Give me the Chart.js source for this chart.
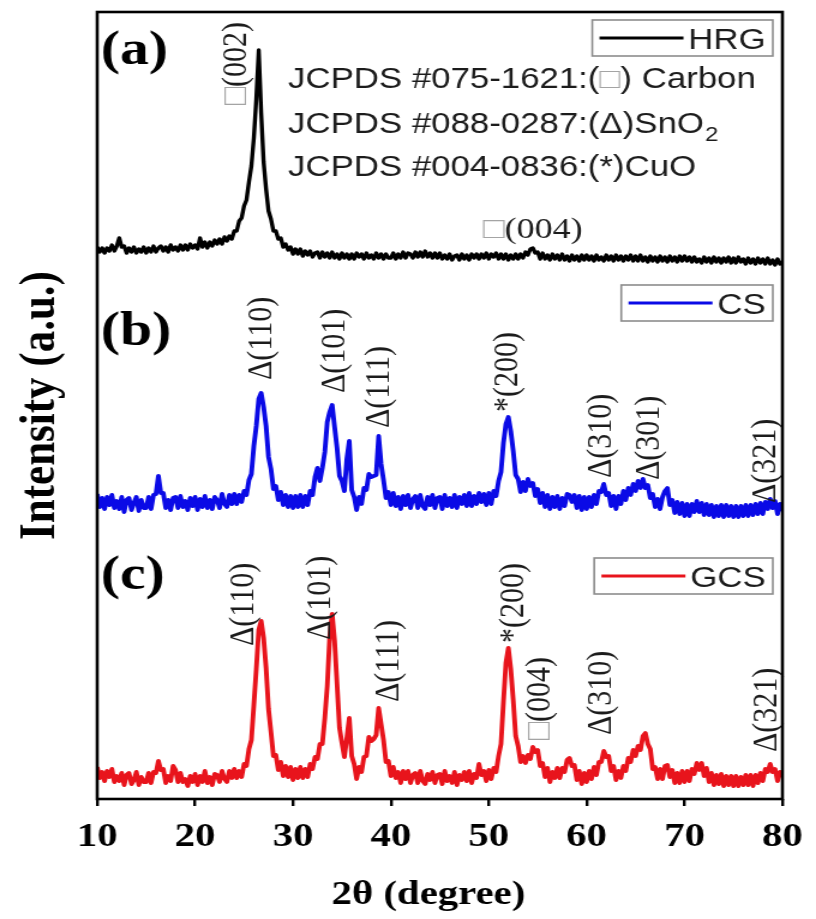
<!DOCTYPE html>
<html>
<head>
<meta charset="utf-8">
<title>XRD patterns of HRG, CS and GCS</title>
<script src="https://cdn.jsdelivr.net/npm/chart.js@4.4.1/dist/chart.umd.min.js"></script>
<style>
  html, body { margin: 0; padding: 0; background: #ffffff; }
  canvas { display: block; }
</style>
</head>
<body>
<canvas id="xrd" width="680" height="919" style="width:816px;height:919px"></canvas>
<script>
// 2θ sampling grid (degree)
const TWO_THETA = [
  10,10.25,10.5,10.75,11,11.25,11.5,11.75,12,12.25,12.5,12.75,13,13.25,13.5,13.75,14,14.25,14.5,14.75,
  15,15.25,15.5,15.75,16,16.25,16.5,16.75,17,17.25,17.5,17.75,18,18.25,18.5,18.75,19,19.25,19.5,19.75,
  20,20.25,20.5,20.75,21,21.25,21.5,21.75,22,22.25,22.5,22.75,23,23.25,23.5,23.75,24,24.25,24.5,24.75,
  25,25.25,25.5,25.75,26,26.25,26.5,26.75,27,27.25,27.5,27.75,28,28.25,28.5,28.75,29,29.25,29.5,29.75,
  30,30.25,30.5,30.75,31,31.25,31.5,31.75,32,32.25,32.5,32.75,33,33.25,33.5,33.75,34,34.25,34.5,34.75,
  35,35.25,35.5,35.75,36,36.25,36.5,36.75,37,37.25,37.5,37.75,38,38.25,38.5,38.75,39,39.25,39.5,39.75,
  40,40.25,40.5,40.75,41,41.25,41.5,41.75,42,42.25,42.5,42.75,43,43.25,43.5,43.75,44,44.25,44.5,44.75,
  45,45.25,45.5,45.75,46,46.25,46.5,46.75,47,47.25,47.5,47.75,48,48.25,48.5,48.75,49,49.25,49.5,49.75,
  50,50.25,50.5,50.75,51,51.25,51.5,51.75,52,52.25,52.5,52.75,53,53.25,53.5,53.75,54,54.25,54.5,54.75,
  55,55.25,55.5,55.75,56,56.25,56.5,56.75,57,57.25,57.5,57.75,58,58.25,58.5,58.75,59,59.25,59.5,59.75,
  60,60.25,60.5,60.75,61,61.25,61.5,61.75,62,62.25,62.5,62.75,63,63.25,63.5,63.75,64,64.25,64.5,64.75,
  65,65.25,65.5,65.75,66,66.25,66.5,66.75,67,67.25,67.5,67.75,68,68.25,68.5,68.75,69,69.25,69.5,69.75,
  70,70.25,70.5,70.75,71,71.25,71.5,71.75,72,72.25,72.5,72.75,73,73.25,73.5,73.75,74,74.25,74.5,74.75,
  75,75.25,75.5,75.75,76,76.25,76.5,76.75,77,77.25,77.5,77.75,78,78.25,78.5,78.75,79,79.25,79.5,79.75,
  80
];

// Intensities (a.u.) of each sample on the grid above
const HRG = [
  32,27,31,26,31,28,34,28,33,41,32,33,26,31,27,32,26,30,27,32,
  26,31,27,33,27,31,33,28,32,27,34,29,32,28,34,29,34,29,35,31,
  34,30,41,32,37,31,37,33,39,35,40,35,42,38,43,40,48,48,58,61,
  73,79,97,113,141,180,229,166,117,90,68,60,48,48,40,41,32,35,29,32,
  25,30,25,30,23,28,24,28,22,26,27,21,27,22,26,21,27,21,25,20,
  26,21,25,20,25,20,26,22,25,20,26,21,24,20,26,21,25,20,25,21,
  21,26,20,25,21,27,21,26,25,21,27,22,27,22,28,22,26,21,26,21,
  26,20,24,20,25,19,23,24,19,25,20,24,19,25,21,25,20,25,21,26,
  20,25,22,26,20,25,20,25,19,24,20,25,20,25,21,27,24,30,31,26,
  27,20,26,20,24,19,25,20,24,19,25,19,23,18,24,19,23,18,24,19,
  24,19,23,18,24,19,22,18,24,19,23,18,24,19,23,18,23,19,24,18,
  23,18,24,18,22,17,23,18,22,17,23,18,22,17,23,18,22,17,23,18,
  23,18,22,17,22,17,20,16,22,17,21,16,22,17,21,16,21,17,22,16,
  21,16,22,17,20,15,21,16,20,15,21,16,20,15,21,15,19,14,20,15,
  17
];
const CS = [
  35,22,31,20,32,24,34,21,28,20,32,17,29,31,19,26,32,18,29,21,
  21,32,20,34,35,53,36,36,21,29,19,31,32,21,33,22,28,19,31,23,
  32,19,30,22,33,21,29,20,32,29,21,35,25,22,34,25,35,25,34,27,
  38,34,49,55,83,103,130,136,122,103,72,60,40,43,29,37,24,34,22,33,
  21,33,22,34,22,33,24,38,34,52,61,48,61,77,107,117,124,102,81,53,
  48,38,70,88,39,32,19,32,25,41,39,55,52,53,54,93,65,49,31,37,
  24,36,23,32,20,33,24,34,21,30,33,21,34,23,20,32,24,34,21,31,
  32,20,34,23,31,22,34,21,32,25,34,23,36,23,33,25,36,27,35,24,
  36,25,38,33,48,57,86,105,112,98,78,54,50,37,47,38,50,43,46,33,
  40,26,36,22,34,20,32,22,33,20,31,23,35,34,27,34,21,33,19,32,
  20,32,22,34,25,38,37,45,34,36,23,33,20,33,25,38,29,41,34,45,
  38,48,41,50,41,44,31,35,22,30,20,32,38,41,24,29,16,27,15,26,
  13,25,13,25,17,28,17,26,14,25,14,24,12,23,13,24,12,24,13,23,
  12,23,12,23,13,24,13,24,14,25,15,26,15,27,20,30,21,28,15,25,
  18
];
const GCS = [
  32,21,27,18,28,22,30,17,23,18,26,14,24,26,15,19,27,14,22,17,
  17,26,16,27,26,38,29,30,16,23,18,33,29,17,26,17,20,13,23,17,
  25,14,23,17,28,16,22,14,25,24,17,28,20,17,28,21,30,21,28,22,
  35,33,50,59,94,130,169,178,161,131,90,67,43,44,29,37,23,33,22,32,
  19,30,21,32,21,30,22,35,30,42,40,55,55,81,113,162,185,158,115,71,
  56,42,61,81,43,35,20,32,27,42,43,62,58,60,64,91,75,59,37,38,
  23,32,21,27,16,28,20,28,16,24,26,16,28,18,15,25,19,27,16,24,
  25,15,28,18,23,16,27,14,24,19,27,18,28,16,25,21,35,24,28,18,
  29,20,31,27,43,55,97,136,151,130,99,63,53,37,43,36,44,40,52,47,
  49,33,36,22,31,17,27,21,31,21,31,27,39,41,33,34,19,28,15,26,
  17,28,20,32,24,37,37,48,42,43,28,33,19,28,21,33,28,41,37,49,
  43,53,49,63,66,55,50,30,32,20,30,20,33,34,22,29,16,26,16,28,
  17,28,18,30,25,36,29,36,23,31,17,26,14,24,15,25,13,23,14,23,
  13,23,13,22,14,24,14,24,13,24,16,26,18,30,27,35,27,30,18,27,
  22
];

// Vertical stacking offsets (a.u.) of the three patterns
const SERIES_NAMES = ['HRG', 'CS', 'GCS'];
const SERIES_OFFSETS = [520, 270, 0];
const PANEL_TAGS = ['(a)', '(b)', '(c)'];

// x-axis ticks (degree) and axis titles
const X_TICKS = [10, 20, 30, 40, 50, 60, 70, 80];
const X_TITLE = '2θ (degree)';
const Y_TITLE = 'Intensity (a.u.)';

// Reflection labels: phase mark, Miller indices, 2θ position and label foot (a.u. above offset)
const HRG_PEAKS = [
  { mark: '□', hkl: '(002)', twoTheta: 24.2, level: 174, upright: true },
  { mark: '□', hkl: '(004)', twoTheta: 54.5, level: 49, upright: false }
];
const CS_PEAKS = [
  { mark: 'Δ', hkl: '(110)', twoTheta: 26.75, level: 149, upright: true },
  { mark: 'Δ', hkl: '(101)', twoTheta: 34.3, level: 136, upright: true },
  { mark: 'Δ', hkl: '(111)', twoTheta: 38.85, level: 101, upright: true },
  { mark: '*', hkl: '(200)', twoTheta: 51.95, level: 117, upright: true },
  { mark: 'Δ', hkl: '(310)', twoTheta: 61.55, level: 51, upright: true },
  { mark: 'Δ', hkl: '(301)', twoTheta: 66.4, level: 49, upright: true },
  { mark: 'Δ', hkl: '(321)', twoTheta: 78.3, level: 26, upright: true }
];
const GCS_PEAKS = [
  { mark: 'Δ', hkl: '(110)', twoTheta: 25.0, level: 153, upright: true },
  { mark: 'Δ', hkl: '(101)', twoTheta: 32.8, level: 159, upright: true },
  { mark: 'Δ', hkl: '(111)', twoTheta: 39.85, level: 97, upright: true },
  { mark: '*', hkl: '(200)', twoTheta: 52.5, level: 156, upright: true },
  { mark: '□', hkl: '(004)', twoTheta: 55.2, level: 59, upright: true },
  { mark: 'Δ', hkl: '(310)', twoTheta: 61.55, level: 64, upright: true },
  { mark: 'Δ', hkl: '(321)', twoTheta: 78.4, level: 47, upright: true }
];

// Reference card notes
const JCPDS_NOTES = [
  { pre: 'JCPDS #075-1621:(', mark: '□', post: ') Carbon', sub: '' },
  { pre: 'JCPDS #088-0287:(Δ)SnO', mark: '', post: '', sub: '2' },
  { pre: 'JCPDS #004-0836:(*)CuO', mark: '', post: '', sub: '' }
];

// ---------- styling ----------
const SERIF = '"Liberation Serif", "Times New Roman", Times, serif';
const SANS = '"Liberation Sans", Arial, Helvetica, sans-serif';
const COLORS = ['#000000', '#0a0ae6', '#e8141c'];
const MARK_GREY = '#a4a4a4';
const TEXT_DARK = '#1c1c1c';

// Panel decorations (canvas units)
const PANEL_STYLE = [
  { tagY: 64, legendTop: 20 },
  { tagY: 345, legendTop: 285 },
  { tagY: 589, legendTop: 558 }
];

const peakSets = [HRG_PEAKS, CS_PEAKS, GCS_PEAKS];
const seriesValues = [HRG, CS, GCS];

const datasets = SERIES_NAMES.map((name, k) => ({
  label: name,
  data: TWO_THETA.map((t, i) => ({ x: t, y: SERIES_OFFSETS[k] + seriesValues[k][i] })),
  borderColor: COLORS[k],
  backgroundColor: COLORS[k],
  borderWidth: k === 0 ? 3.4 : 3.9,
  borderJoinStyle: 'round',
  pointRadius: 0,
  tension: 0,
  fill: false
}));

function drawMarkText(ctx, x, y, mark, rest, font) {
  ctx.font = font;
  ctx.textAlign = 'left';
  ctx.textBaseline = 'middle';
  let cx = x;
  if (mark) {
    ctx.fillStyle = mark === '□' ? MARK_GREY : TEXT_DARK;
    ctx.fillText(mark, cx, y);
    cx += ctx.measureText(mark).width;
  }
  ctx.fillStyle = TEXT_DARK;
  ctx.fillText(rest, cx, y);
  return cx + ctx.measureText(rest).width - x;
}

const decorations = {
  id: 'decorations',
  afterDatasetsDraw(chart) {
    const { ctx, chartArea, scales } = chart;
    const xs = scales.x, ys = scales.y;
    ctx.save();

    // reflection labels
    const peakFont = '30px ' + SERIF;
    peakSets.forEach((set, k) => {
      set.forEach(p => {
        const px = xs.getPixelForValue(p.twoTheta);
        const py = ys.getPixelForValue(SERIES_OFFSETS[k] + p.level);
        ctx.save();
        if (p.upright) {
          ctx.translate(px, py);
          ctx.rotate(-Math.PI / 2);
          drawMarkText(ctx, 0, 0, p.mark, p.hkl, peakFont);
        } else {
          ctx.font = peakFont;
          const w = ctx.measureText(p.mark + p.hkl).width;
          drawMarkText(ctx, px - w / 2, py, p.mark, p.hkl, peakFont);
        }
        ctx.restore();
      });
    });

    // panel tags
    ctx.font = 'bold 48px ' + SERIF;
    ctx.fillStyle = '#000';
    ctx.textAlign = 'left';
    ctx.textBaseline = 'alphabetic';
    PANEL_TAGS.forEach((tag, k) => ctx.fillText(tag, chartArea.left + 3, PANEL_STYLE[k].tagY));

    // per-panel legend boxes
    const legendFont = '29px ' + SANS;
    const boxRight = chartArea.right - 8;
    const boxH = 36;
    SERIES_NAMES.forEach((name, k) => {
      const top = PANEL_STYLE[k].legendTop;
      ctx.font = legendFont;
      const tw = ctx.measureText(name).width;
      const textRight = boxRight - 6;
      const lineEnd = textRight - tw - 4;
      const lineStart = lineEnd - 70;
      const left = lineStart - 6;
      ctx.strokeStyle = '#8c8c8c';
      ctx.lineWidth = 1.6;
      ctx.strokeRect(left, top, boxRight - left, boxH);
      ctx.strokeStyle = COLORS[k];
      ctx.lineWidth = 3;
      ctx.beginPath();
      ctx.moveTo(lineStart, top + boxH / 2);
      ctx.lineTo(lineEnd, top + boxH / 2);
      ctx.stroke();
      ctx.fillStyle = TEXT_DARK;
      ctx.textAlign = 'right';
      ctx.textBaseline = 'alphabetic';
      ctx.fillText(name, textRight, top + boxH / 2 + 10.5);
    });

    // JCPDS reference notes
    const noteFont = '29px ' + SANS;
    const noteBase = [88, 133, 176];
    JCPDS_NOTES.forEach((n, i) => {
      ctx.font = noteFont;
      ctx.textAlign = 'left';
      ctx.textBaseline = 'alphabetic';
      let x = 240;
      const y = noteBase[i];
      ctx.fillStyle = TEXT_DARK;
      ctx.fillText(n.pre, x, y);
      x += ctx.measureText(n.pre).width;
      if (n.mark) {
        ctx.fillStyle = MARK_GREY;
        ctx.fillText(n.mark, x, y);
        x += ctx.measureText(n.mark).width;
        ctx.fillStyle = TEXT_DARK;
      }
      if (n.post) {
        ctx.fillText(n.post, x, y);
        x += ctx.measureText(n.post).width;
      }
      if (n.sub) {
        ctx.font = '20px ' + SANS;
        ctx.fillText(n.sub, x + 1, y + 8);
      }
    });

    // plot frame
    ctx.strokeStyle = '#000';
    ctx.lineWidth = 2.6;
    ctx.strokeRect(chartArea.left, chartArea.top, chartArea.right - chartArea.left, chartArea.bottom - chartArea.top);
    ctx.restore();
  },
  afterDraw(chart) {
    // x-axis title, set slightly left of the axis centre
    const { ctx } = chart;
    ctx.save();
    ctx.font = 'bold 34px ' + SERIF;
    ctx.fillStyle = '#000';
    ctx.textAlign = 'center';
    ctx.textBaseline = 'middle';
    ctx.fillText(X_TITLE, 357, 895);
    ctx.restore();
  }
};

new Chart(document.getElementById('xrd'), {
  type: 'line',
  data: { datasets },
  options: {
    responsive: false,
    animation: false,
    devicePixelRatio: 1,
    layout: { padding: { top: 12, right: 21, left: 0, bottom: 0 } },
    plugins: { legend: { display: false }, tooltip: { enabled: false } },
    scales: {
      x: {
        type: 'linear',
        min: 10,
        max: 80,
        afterFit: s => { s.height = 120; },
        afterBuildTicks: s => { s.ticks = X_TICKS.map(v => ({ value: v })); },
        border: { display: false },
        grid: { display: true, drawOnChartArea: false, drawTicks: true, tickLength: 7, color: '#000', lineWidth: 2.4 },
        ticks: { padding: 11, color: '#000', font: { family: SERIF, size: 34, weight: 'bold' }, maxRotation: 0 },
        title: { display: false, text: X_TITLE }
      },
      y: {
        min: 0,
        max: 787,
        afterFit: s => { s.width = 81; },
        border: { display: false },
        grid: { display: false },
        ticks: { display: false },
        title: { display: true, text: Y_TITLE, color: '#000', padding: { top: 8, bottom: 0 }, font: { family: SERIF, size: 43, weight: 'bold' } }
      }
    }
  },
  plugins: [decorations]
});
</script>
</body>
</html>
